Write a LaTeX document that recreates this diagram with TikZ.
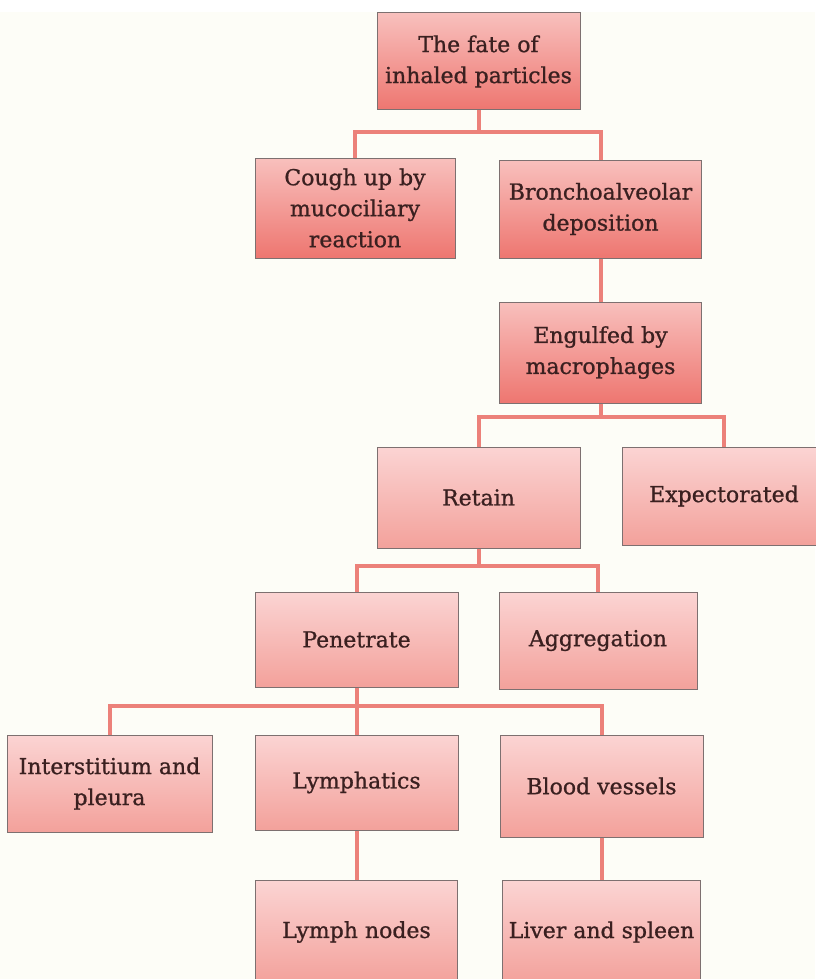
\documentclass[tikz,border=0pt]{standalone}
\usepackage{fontspec}
\setmainfont{DejaVu Serif}
\newfontfamily\boxfont[FakeBold=0.9]{DejaVu Serif}
\usepackage{tikz}

\definecolor{paper}{HTML}{FDFDF7}
\definecolor{inkbrown}{HTML}{3A2020}
\definecolor{linkred}{HTML}{EC817A}
\definecolor{hitop}{HTML}{F8C0BD}
\definecolor{hibot}{HTML}{EE7670}
\definecolor{lotop}{HTML}{FBD4D3}
\definecolor{lobot}{HTML}{F3A19B}
\definecolor{rim}{HTML}{7D7070}

\begin{document}
\begin{tikzpicture}[x=1pt, y=-1pt,
    box/.style={draw=rim, line width=1pt, align=center, text=inkbrown,
        inner sep=0pt, font=\boxfont\fontsize{22}{31}\selectfont},
    hibox/.style={box, top color=hitop, bottom color=hibot},
    lobox/.style={box, top color=lotop, bottom color=lobot},
    link/.style={draw=linkred, line width=4pt}]
            \useasboundingbox (0, 0) rectangle (815, 979);
            \fill[paper] (0, 12) rectangle (815, 979);
            % upper part
            \node[hibox, minimum width=203, minimum height=97] (fate) at (478.5, 61.5) {The fate of\\inhaled particles};
            \node[hibox, minimum width=200, minimum height=100] (cough) at (355, 208) {Cough up by\\mucociliary\\reaction};
            \node[hibox, minimum width=202, minimum height=98] (bronch) at (600.5, 209) {Bronchoalveolar\\deposition};
            \node[hibox, minimum width=202, minimum height=101] (engulf) at (600.5, 352.5) {Engulfed by\\macrophages};
            % lower part
            \node[lobox, minimum width=203, minimum height=101] (retain) at (478.5, 497.5) {Retain};
            \node[lobox, minimum width=204, minimum height=98] (expect) at (724, 496) {Expectorated};
            \node[lobox, minimum width=203, minimum height=95] (penet) at (356.5, 639.5) {Penetrate};
            \node[lobox, minimum width=198, minimum height=97] (aggr) at (598, 640.5) {Aggregation};
            \node[lobox, minimum width=205, minimum height=97] (inter) at (109.5, 783.5) {Interstitium and\\pleura};
            \node[lobox, minimum width=203, minimum height=95] (lymph) at (356.5, 782.5) {Lymphatics};
            \node[lobox, minimum width=203, minimum height=102] (blood) at (601.5, 786) {Blood vessels};
            \node[lobox, minimum width=202, minimum height=104] (lnodes) at (356.5, 932) {Lymph nodes};
            \node[lobox, minimum width=198, minimum height=104] (liver) at (601.5, 932) {Liver and spleen};
            % bus levels
            \coordinate (busa) at (478.5, 132);
            \coordinate (busb) at (600.5, 417);
            \coordinate (busc) at (478.5, 566);
            \coordinate (busd) at (356.5, 706);
            \draw[link] (fate.south) -- (busa);
            \draw[link] (cough.north) |- (busa) -| (bronch.north);
            \draw[link] (bronch.south) -- (engulf.north);
            \draw[link] (engulf.south) -- (busb);
            \draw[link] (retain.north) |- (busb) -| (expect.north);
            \draw[link] (retain.south) -- (busc);
            \draw[link] (penet.north) |- (busc) -| (aggr.north);
            \draw[link] (penet.south) -- (busd);
            \draw[link] (inter.north) |- (busd) -| (blood.north);
            \draw[link] (busd) -- (lymph.north);
            \draw[link] (lymph.south) -- (lnodes.north);
            \draw[link] (blood.south) -- (liver.north);
\end{tikzpicture}
\end{document}
